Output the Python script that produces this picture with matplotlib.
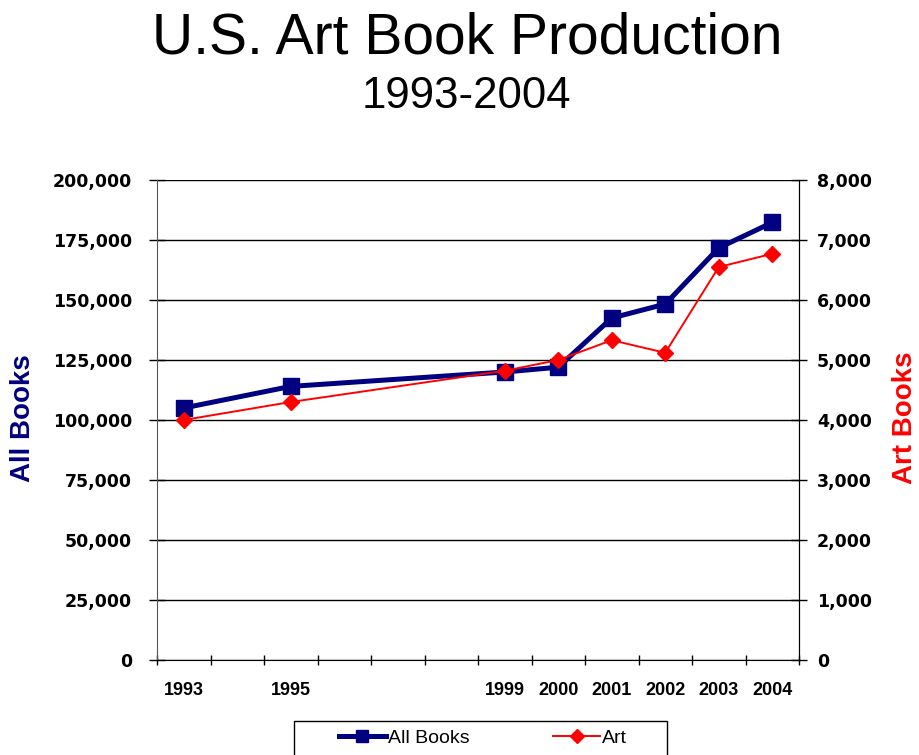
import numpy as np
import matplotlib
matplotlib.use("Agg")
import matplotlib.pyplot as plt
from matplotlib.patches import Rectangle

# data
years = [1993, 1995, 1999, 2000, 2001, 2002, 2003, 2004]
all_books = [105000, 114000, 120000, 122000, 142500, 148300, 171700, 182300]
art_books = [4000, 4300, 4820, 5000, 5330, 5120, 6550, 6770]

left_ticks = np.arange(0, 200001, 25000)
right_ticks = np.arange(0, 8001, 1000)

NAVY = "#000080"
RED = "#FF0000"
SANS = "Liberation Sans"

fig = plt.figure(figsize=(9.19, 7.55), dpi=100)
ax = fig.add_axes([157 / 919, 1 - 660 / 755, (799 - 157) / 919, (660 - 180) / 755])
ax2 = ax.twinx()

# all books on the left axis
l1, = ax.plot(years, all_books, color=NAVY, lw=3.6, marker="s", ms=11.5,
              label="All Books", zorder=3)
# art books on the right axis
l2, = ax2.plot(years, art_books, color=RED, lw=1.4, marker="D", ms=8.5,
               label="Art", zorder=4)

ax.set_xlim(1992.5, 2004.5)
ax.set_ylim(0, 200000)
ax2.set_ylim(0, 8000)

ax.set_yticks(left_ticks)
ax.set_yticklabels([f"{v:,}" for v in left_ticks])
ax2.set_yticks(right_ticks)
ax2.set_yticklabels([f"{v:,}" for v in right_ticks])

# ticks between the years, labels at the data years
ax.set_xticks(np.arange(1992.5, 2005, 1.0))
ax.set_xticklabels([])
ax.set_xticks(years, minor=True)
ax.set_xticklabels([str(y) for y in years], minor=True,
                   fontfamily=SANS, fontweight="bold", fontsize=13)
ax.tick_params(axis="x", which="major", direction="inout", length=7, width=1)
ax.tick_params(axis="x", which="minor", length=0, pad=16)

ax.tick_params(axis="y", direction="inout", length=12, width=1, pad=12)
ax2.tick_params(axis="y", direction="inout", length=12, width=1, pad=7)
for lab in ax.get_yticklabels() + ax2.get_yticklabels():
    lab.set_fontfamily("DejaVu Sans")
    lab.set_fontweight("bold")
    lab.set_fontsize(12.5)

ax.grid(axis="y", color="black", lw=1)
ax.set_axisbelow(True)
for a in (ax, ax2):
    a.spines["top"].set_visible(False)
ax.spines["left"].set_color("#555555")
ax2.spines["left"].set_visible(False)
ax2.spines["bottom"].set_visible(False)

# titles
fig.text(467 / 919, 1 - 54 / 755, "U.S. Art Book Production", ha="center",
         va="baseline", fontfamily=SANS, fontsize=41)
fig.text(466 / 919, 1 - 108 / 755, "1993-2004", ha="center", va="baseline",
         fontfamily=SANS, fontsize=31.5)

# axis titles
fig.text(23 / 919, 1 - 418 / 755, "All Books", rotation=90, ha="center",
         va="center", color=NAVY, fontfamily=SANS, fontweight="bold", fontsize=20)
fig.text(905 / 919, 1 - 418 / 755, "Art Books", rotation=90, ha="center",
         va="center", color=RED, fontfamily=SANS, fontweight="bold", fontsize=20)

# legend at the bottom, box runs off the figure edge
leg = fig.legend([l1, l2], ["All Books", "Art"], ncol=2, mode="expand",
                 loc="center", bbox_to_anchor=(339 / 919, 1 - 750 / 755, (627 - 339) / 919, 24 / 755),
                 frameon=False, borderpad=0, borderaxespad=0, handlelength=2.4,
                 handletextpad=0.1, prop={"family": SANS, "size": 14})
leg.legend_handles[0].set_markersize(8)
leg.legend_handles[1].set_markersize(7)
fig.patches.append(Rectangle((294 / 919, -0.05), (667 - 294) / 919, 0.05 + 1 - 721 / 755,
                             transform=fig.transFigure, fill=False,
                             edgecolor="black", lw=1))

fig.savefig("out.png", dpi=100)
